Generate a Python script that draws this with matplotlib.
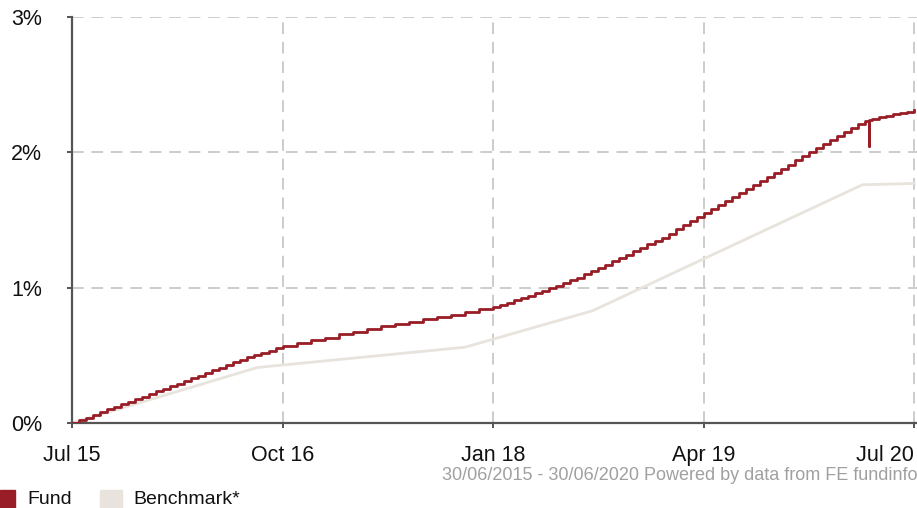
import numpy as np
import matplotlib
matplotlib.use("Agg")
from matplotlib import pyplot as plt
from matplotlib.patches import Rectangle

plt.rcParams['font.family'] = ['Liberation Sans', 'DejaVu Sans']

# half-monthly readings, months since 30/06/2015, cumulative growth in %
fund_months = np.arange(0, 60.5, 0.5)
fund_values = [
    0.00, 0.02, 0.04, 0.06, 0.08, 0.10, 0.12, 0.14, 0.155, 0.175,
    0.195, 0.215, 0.235, 0.25, 0.27, 0.29, 0.31, 0.33, 0.35, 0.37,
    0.39, 0.41, 0.43, 0.45, 0.466, 0.485, 0.50, 0.52, 0.535, 0.555,
    0.57, 0.57, 0.59, 0.59, 0.61, 0.61, 0.63, 0.63, 0.655, 0.655,
    0.675, 0.675, 0.695, 0.695, 0.715, 0.715, 0.73, 0.73, 0.75, 0.75,
    0.77, 0.77, 0.786, 0.786, 0.80, 0.80, 0.82, 0.82, 0.84, 0.84,
    0.86, 0.875, 0.89, 0.91, 0.925, 0.94, 0.958, 0.975, 0.995, 1.015,
    1.035, 1.055, 1.075, 1.10, 1.12, 1.145, 1.17, 1.195, 1.22, 1.245,
    1.27, 1.295, 1.32, 1.345, 1.37, 1.40, 1.43, 1.46, 1.49, 1.52,
    1.55, 1.58, 1.61, 1.64, 1.67, 1.70, 1.73, 1.76, 1.79, 1.82,
    1.85, 1.88, 1.91, 1.94, 1.97, 2.00, 2.03, 2.06, 2.09, 2.12,
    2.15, 2.18, 2.21, 2.235, 2.25, 2.26, 2.27, 2.28, 2.29, 2.30,
    2.31]
# one-off dip in the fund price
dip_month = 56.75
dip_value = 2.05
dip_back = 2.24

bench_months = [0, 13.2, 28.0, 37.1, 56.3, 60]
bench_values = [0.00, 0.41, 0.56, 0.83, 1.76, 1.77]

tick_months = [0, 15, 30, 45, 60]
tick_labels = ['Jul 15', 'Oct 16', 'Jan 18', 'Apr 19', 'Jul 20']
y_ticks = [0, 1, 2, 3]
y_labels = ['0%', '1%', '2%', '3%']

fund_col = '#981d26'
bench_col = '#e8e3dd'

# insert the dip into the step series
fx = []
fy = []
for m, v in zip(fund_months, fund_values):
    if m == 57:
        fx += [dip_month, dip_month + 0.06]
        fy += [dip_value, dip_back]
    fx.append(m)
    fy.append(v)

fig = plt.figure(figsize=(9.17, 5.08), dpi=100)
ax = fig.add_axes([72 / 917, 1 - 423 / 508, 1 - 72 / 917, (423 - 17) / 508])

ax.plot(bench_months, bench_values, color=bench_col, lw=2, zorder=2)
ax.plot(fx, fy, color=fund_col, lw=2, drawstyle='steps-post', zorder=3)

ax.set_xlim(0, 60.2)
ax.set_ylim(0, 3)
ax.set_xticks(tick_months)
ax.set_xticklabels(tick_labels)
ax.set_yticks(y_ticks)
ax.set_yticklabels(y_labels)

ax.grid(True, color='#cccccc', lw=1.4, linestyle=(0, (6, 4)))
ax.set_axisbelow(True)
for s in ['top', 'right']:
    ax.spines[s].set_visible(False)
for s in ['left', 'bottom']:
    ax.spines[s].set_color('#555555')
    ax.spines[s].set_linewidth(1.6)
ax.tick_params(axis='x', length=3.6, width=1.4, color='#555555', pad=12.4,
               labelsize=15.5, labelcolor='#111111')
ax.tick_params(axis='y', length=3.6, width=1.4, color='#555555', pad=18,
               labelsize=15.5, labelcolor='#111111')
ax.get_xticklabels()[-1].set_horizontalalignment('right')
ax.get_xticklabels()[-1].set_x(60.2)

fig.text(1.0, 1 - 475 / 508, '30/06/2015 - 30/06/2020 Powered by data from FE fundinfo',
         ha='right', va='center', fontsize=13, color='#a0a0a0')

# legend
fig.patches.append(Rectangle((0, 0), 15 / 917, 18 / 508, transform=fig.transFigure,
                             color=fund_col, figure=fig))
fig.text(27 / 917, 1 - 499 / 508, 'Fund', ha='left', va='center', fontsize=14, color='#111111')
fig.patches.append(Rectangle((100 / 917, 0), 22 / 917, 18 / 508, transform=fig.transFigure,
                             color=bench_col, figure=fig))
fig.text(133 / 917, 1 - 499 / 508, 'Benchmark*', ha='left', va='center', fontsize=14,
         color='#111111')

fig.savefig('out.png', dpi=100)
